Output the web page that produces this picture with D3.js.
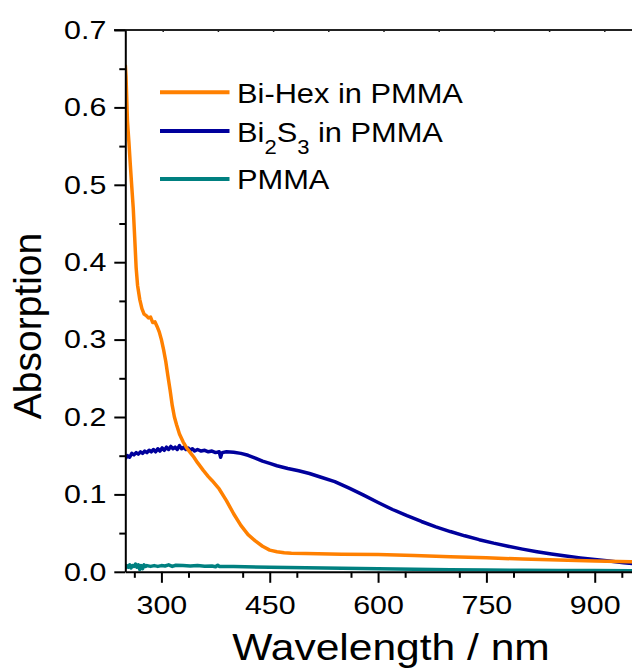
<!DOCTYPE html>
<html>
<head>
<meta charset="utf-8">
<script src="https://cdn.jsdelivr.net/npm/d3@7"></script>
<style>
  html, body { margin: 0; padding: 0; background: #fff; }
  svg { display: block; }
  text { font-family: "Liberation Sans", Arial, sans-serif; fill: #000; }
</style>
</head>
<body>
<svg id="chart" width="632" height="671"></svg>
<script>
// ---------- data ----------
const bihexWl  = [250,251,252,253,255,257,259,261,263,265,267,270,273,276,279,282,285,288,291,294,297,300,303,306,309,312,315,318,321,325,330,335,340,345,350,358,365,370,380,390,400,410,420,430,440,450,460,470,480,500,550,600,650,700,750,800,850,900,950,1000];
const bihexAbs = [0.655,0.640,0.610,0.582,0.555,0.525,0.497,0.470,0.432,0.393,0.370,0.352,0.340,0.333,0.331,0.328,0.329,0.322,0.323,0.317,0.310,0.300,0.287,0.272,0.253,0.235,0.215,0.200,0.190,0.178,0.168,0.160,0.154,0.148,0.141,0.131,0.123,0.118,0.107,0.092,0.075,0.060,0.048,0.040,0.033,0.028,0.026,0.0245,0.024,0.0235,0.0228,0.0222,0.021,0.0195,0.018,0.0165,0.0152,0.014,0.013,0.012];

const bi2s3Wl  = [250,253,256,259,262,265,268,271,274,277,280,283,286,289,292,295,298,301,304,307,310,313,316,319,322,325,328,331,334,337,340,343,346,350,355,360,365,370,375,380,382,384,390,400,410,420,430,440,450,460,475,490,505,520,540,560,580,600,620,640,660,680,700,720,740,760,780,800,820,840,860,880,900,920,940,960,1000];
const bi2s3Abs = [0.146,0.150,0.148,0.153,0.151,0.154,0.152,0.155,0.153,0.156,0.154,0.157,0.155,0.158,0.155,0.159,0.156,0.160,0.157,0.161,0.158,0.162,0.159,0.161,0.158,0.163,0.159,0.161,0.158,0.160,0.157,0.159,0.156,0.158,0.156,0.157,0.155,0.156,0.154,0.155,0.148,0.154,0.155,0.1545,0.153,0.1505,0.147,0.143,0.140,0.137,0.1335,0.1305,0.127,0.1225,0.1165,0.108,0.099,0.0895,0.0805,0.0725,0.065,0.058,0.052,0.0465,0.0415,0.037,0.033,0.0293,0.026,0.023,0.0203,0.018,0.016,0.014,0.0118,0.0098,0.006];

const pmmaWl  = [250,252,254,256,258,260,262,264,266,268,270,272,274,276,278,280,285,290,295,300,305,310,315,320,330,340,350,360,370,375,378,380,400,450,500,550,600,650,700,750,800,850,900,950,1000];
const pmmaAbs = [0.004,0.008,0.006,0.009,0.005,0.008,0.007,0.010,0.006,0.009,0.003,0.008,0.004,0.009,0.007,0.008,0.007,0.008,0.007,0.008,0.0075,0.009,0.007,0.0085,0.008,0.0075,0.008,0.0072,0.0075,0.0065,0.0085,0.007,0.0068,0.006,0.0053,0.0045,0.0038,0.0032,0.0027,0.0023,0.002,0.0018,0.0016,0.0014,0.0012];

const seriesNames  = ["Bi-Hex in PMMA", "Bi2S3 in PMMA", "PMMA"];
const seriesColors = ["#ff8000", "#00009c", "#008080"];

const xTickValues = [300, 450, 600, 750, 900];
const yTickValues = [0, 0.1, 0.2, 0.3, 0.4, 0.5, 0.6, 0.7];

// ---------- layout ----------
const svg = d3.select("#chart");
const plotLeft = 125.3, plotTop = 30, plotBottom = 571.8;
const pxPerNm = 0.7222;
const xMax = 1000;
const plotRight = plotLeft + (xMax - 250) * pxPerNm;
const sx = 1.17; // horizontal text stretch

const x = d3.scaleLinear().domain([250, xMax]).range([plotLeft, plotRight]);
const xTop = d3.scaleLinear().domain([300, 900]).range([162.7, 604.3]);
const y = d3.scaleLinear().domain([0, 0.7]).range([plotBottom, plotTop]);

svg.append("defs").append("clipPath").attr("id", "clip")
  .append("rect").attr("x", plotLeft).attr("y", plotTop - 5)
  .attr("width", plotRight - plotLeft).attr("height", plotBottom - plotTop + 5);

// ---------- lines ----------
const line = d3.line().x(d => x(d[0])).y(d => y(d[1]));
const series = [
  {wl: bi2s3Wl, v: bi2s3Abs, c: seriesColors[1]},
  {wl: bihexWl, v: bihexAbs, c: seriesColors[0]},
  {wl: pmmaWl,  v: pmmaAbs,  c: seriesColors[2]}
];
const gLines = svg.append("g").attr("clip-path", "url(#clip)");
series.forEach(s => {
  gLines.append("path")
    .datum(s.wl.map((w, i) => [w, s.v[i]]))
    .attr("d", line)
    .attr("fill", "none")
    .attr("stroke", s.c)
    .attr("stroke-width", 3.5)
    .attr("stroke-linejoin", "round");
});

// ---------- axes ----------
function styleAxis(g) {
  g.select(".domain").attr("stroke", "#000").attr("stroke-width", 2);
  g.selectAll(".tick line").attr("stroke", "#000").attr("stroke-width", 2);
}

// minor ticks
const xMinor = d3.range(262.5, xMax, 75).filter(v => !xTickValues.includes(v));
svg.append("g").attr("transform", `translate(0,${plotBottom})`)
  .call(d3.axisBottom(x).tickValues(xMinor).tickSize(6).tickFormat(""))
  .call(g => g.select(".domain").remove())
  .call(styleAxis);
const yMinor = d3.range(0.05, 0.7, 0.1);
svg.append("g").attr("transform", `translate(${plotLeft},0)`)
  .call(d3.axisLeft(y).tickValues(yMinor).tickSize(6).tickFormat(""))
  .call(g => g.select(".domain").remove())
  .call(styleAxis);

// top axis
svg.append("g").attr("transform", `translate(0,${plotTop})`)
  .call(d3.axisBottom(xTop).tickValues(d3.range(300, 901, 75)).tickSize(2).tickFormat(""))
  .call(g => g.select(".domain").remove())
  .call(g => g.selectAll(".tick line").attr("stroke", "#222").attr("stroke-width", 1.5));
svg.append("line").attr("x1", 114).attr("x2", 632).attr("y1", plotTop).attr("y2", plotTop)
  .attr("stroke", "#222").attr("stroke-width", 2.2);

// bottom axis
svg.append("g").attr("transform", `translate(0,${plotBottom})`)
  .call(d3.axisBottom(x).tickValues(xTickValues).tickSize(11).tickPadding(13).tickSizeOuter(0))
  .call(styleAxis)
  .call(g => g.selectAll(".tick text")
    .attr("font-size", 26).attr("font-family", "Liberation Sans, Arial, sans-serif")
    .attr("fill", "#000").attr("transform", `scale(${sx},1)`));

// left axis
const yGap = 19;
svg.append("g").attr("transform", `translate(${plotLeft},0)`)
  .call(d3.axisLeft(y).tickValues(yTickValues).tickSize(11).tickSizeOuter(0).tickFormat(d3.format(".1f")))
  .call(styleAxis)
  .call(g => g.selectAll(".tick text")
    .attr("font-size", 26).attr("font-family", "Liberation Sans, Arial, sans-serif")
    .attr("fill", "#000").attr("x", -yGap / sx).attr("transform", `scale(${sx},1)`));

// axis titles
svg.append("text")
  .attr("transform", `translate(391,660) scale(1.15,1)`)
  .attr("text-anchor", "middle").attr("font-size", 37)
  .text("Wavelength / nm");
svg.append("text")
  .attr("transform", `translate(41,326) rotate(-90)`)
  .attr("text-anchor", "middle").attr("font-size", 39)
  .text("Absorption");

// ---------- legend ----------
const legendRows = [
  {baseline: 102.7, lineY: 92.3},
  {baseline: 141.7, lineY: 131},
  {baseline: 189.3, lineY: 179}
];
const gLeg = svg.append("g");
legendRows.forEach((r, i) => {
  gLeg.append("line").attr("x1", 160).attr("x2", 229.5)
    .attr("y1", r.lineY).attr("y2", r.lineY)
    .attr("stroke", seriesColors[i]).attr("stroke-width", 4);
  const t = gLeg.append("text")
    .attr("transform", `translate(237,${r.baseline}) scale(1.1,1)`)
    .attr("font-size", 28);
  if (i === 1) {
    t.append("tspan").text("Bi");
    t.append("tspan").attr("font-size", 20).attr("dy", 12).text("2");
    t.append("tspan").attr("dy", -12).text("S");
    t.append("tspan").attr("font-size", 20).attr("dy", 12).text("3");
    t.append("tspan").attr("dy", -12).text(" in PMMA");
  } else {
    t.text(seriesNames[i]);
  }
});
</script>
</body>
</html>
